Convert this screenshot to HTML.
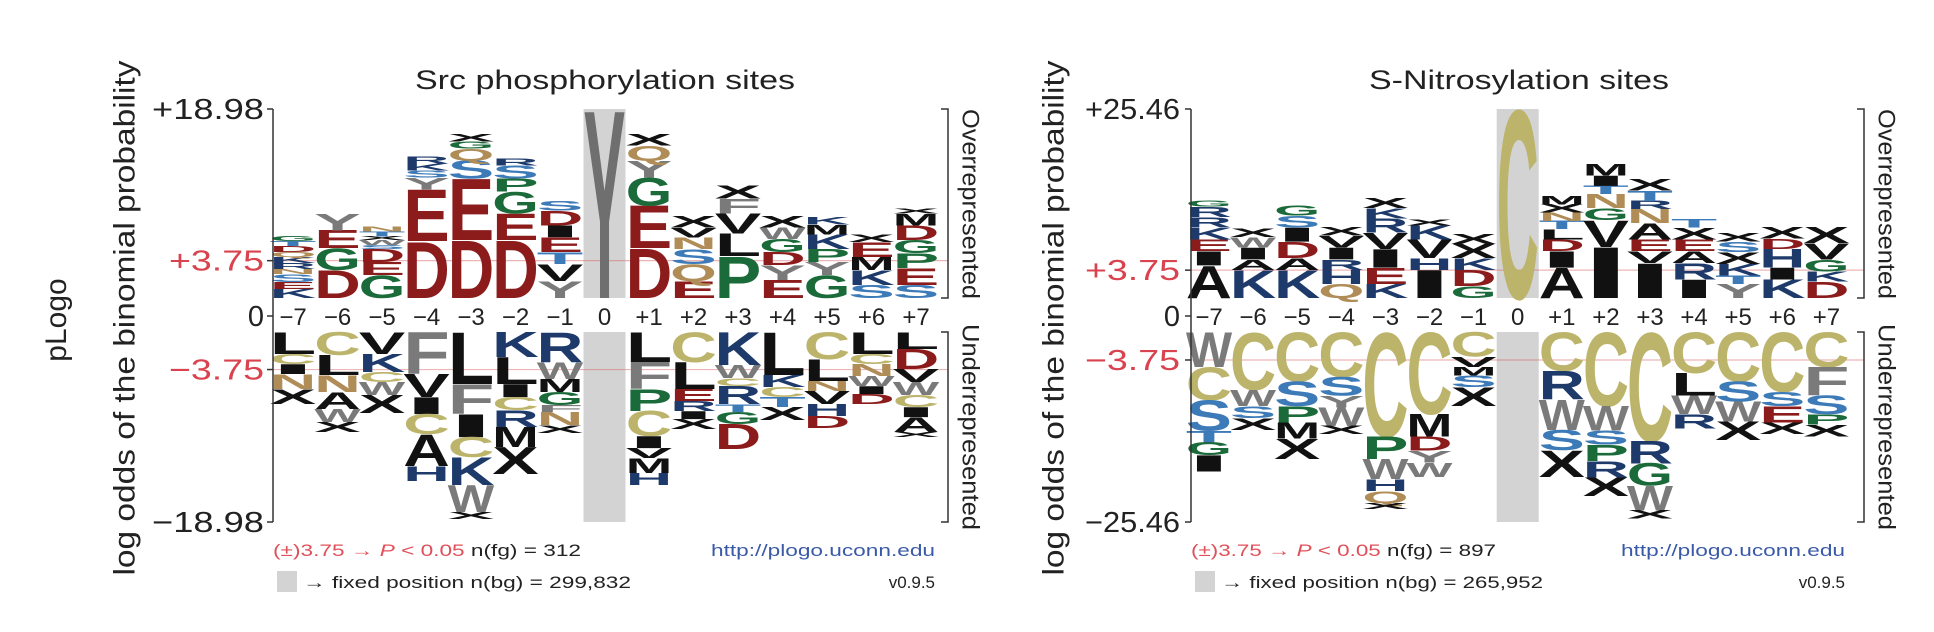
<!DOCTYPE html>
<html><head><meta charset="utf-8"><style>
html,body{margin:0;padding:0;background:#fff;}
svg{display:block;font-family:"Liberation Sans",sans-serif;}
</style></head><body>
<svg id="fig" width="1934" height="632" viewBox="0 0 1934 632" xmlns="http://www.w3.org/2000/svg">
<text transform="translate(66,320) rotate(-90)" font-size="30" text-anchor="middle" fill="#222">pLogo</text>
</svg>
<script>
// ---------- Data: Src phosphorylation sites ----------
const positions = ['\u22127','\u22126','\u22125','\u22124','\u22123','\u22122','\u22121','0','+1','+2','+3','+4','+5','+6','+7'];
const srcTicks = ['+18.98','+3.75','0','\u22123.75','\u221218.98'];
const srcMax = 18.98;
const srcFixed = 'Y';
const srcUpperLetters = ['KESNRKQDTG','DGEY','GEDSWXTN','DEYSKR','DESQGX','DEGPSR','YVTEIDS','','DEGYQX','EQSNVX','PLVFX','EYDGWX','GYPKMK','SKMEX','SEPGDMX'];
const srcUpperScores = [
 [0.9,0.7,0.8,0.5,0.6,0.6,0.5,0.6,0.5,0.5],[2.8,2.2,1.8,1.7],[2.3,1.3,1.3,0.4,0.5,0.4,0.5,0.5],
 [5.7,5.2,1.2,0.7,0.7,0.7],[5.8,6.2,1.8,1.2,0.7,0.8],[5.8,2.7,2.2,1.3,1.3,0.7],[1.7,1.7,1.2,1.5,1.2,1.5,1.0],
 [],[5.0,4.3,2.8,1.7,1.5,1.2],[1.7,1.7,1.5,1.2,1.0,1.2],[4.2,2.3,2.0,1.5,1.3],[1.8,1.5,1.3,1.3,1.2,1.2],
 [2.3,1.3,1.3,1.5,1.0,0.8],[1.3,1.5,1.3,1.5,0.8],[1.3,1.7,1.5,1.3,1.5,1.2,0.5]];
const srcLowerLetters = ['LCINX','CLNAWX','VKCWX','FVICAH','LFICKWX','KLICRMX','RWMGFNX','','LFPCIVMH','CLERIX','KWCRTGD','LKCTX','CLNVHD','LCNWID','LDVWCIAX'];
const srcLowerScores = [
 [2.2,1.0,1.0,1.5,1.5],[2.3,2.0,1.7,1.7,1.3,1.0],[2.2,1.8,1.0,1.3,1.8],[4.2,2.3,1.7,2.0,3.2,1.5],
 [5.2,3.0,2.3,2.0,2.8,2.7,0.7],[2.5,2.7,1.3,1.3,1.7,2.0,2.7],[3.0,1.7,1.3,1.3,0.7,1.3,0.8],[],
 [3.0,2.7,2.2,2.5,1.2,1.0,1.5,1.2],[3.0,2.7,1.2,1.0,0.8,1.0],[3.3,1.3,0.8,1.8,0.8,1.2,2.5],[4.3,1.2,1.0,1.0,1.3],
 [2.7,2.2,1.0,1.3,1.2,1.2],[2.2,1.0,1.2,1.0,0.8,1.0],[1.7,2.0,1.3,1.3,1.2,1.0,1.5,0.5]];

// ---------- Data: S-Nitrosylation sites ----------
const snoTicks = ['+25.46','+3.75','0','\u22123.75','\u221225.46'];
const snoMax = 25.46;
const snoFixed = 'C';
const snoUpperLetters = ['AIEKRRG','KAIWX','KADISG','QHRIVX','KEIVRKX','IHVKX','GDKXX','','AIDLTNXM','IVGNTIM','IVEANRTX','IRAEXT','YTKXSX','KIHDX','DKGVX'];
const snoUpperScores = [
 [4.4,1.9,1.6,1.6,1.4,1.4,0.8],[3.8,1.4,1.6,1.4,1.1],[3.8,1.6,2.2,1.9,1.6,1.4],[1.9,1.9,1.4,1.6,1.6,1.1],
 [1.9,2.2,2.5,2.2,1.9,1.4,1.4],[3.8,1.6,2.5,1.9,0.8],[1.6,2.2,1.6,1.9,1.4],[],
 [4.1,2.2,1.6,1.4,1.1,1.1,1.1,1.1],[6.9,3.6,1.6,1.9,1.1,1.4,1.6],[4.7,1.6,1.6,2.2,1.9,1.1,1.4,1.6],
 [2.5,2.2,1.6,1.6,1.6,1.1],[1.9,1.1,1.6,1.6,1.4,1.1],[2.5,1.6,2.5,1.4,1.6],[2.2,1.4,1.6,2.2,2.2]];
const snoLowerLetters = ['WCSTGI','CWSX','CSPMX','CSYWX','CPWHQX','CMDYW','CVMSX','','CRWSX','CWSPRX','CRGWX','CLWR','CSWX','CSEX','CFSPX'];
const snoLowerScores = [
 [4.7,4.4,4.1,1.6,1.7,2.2],[7.7,2.2,1.6,1.6],[6.6,3.3,2.2,2.2,2.7],[6.0,2.5,1.6,2.5,1.1],
 [14.0,3.0,2.7,1.6,1.6,0.8],[11.0,3.0,1.9,1.6,1.9],[3.3,1.4,1.1,1.6,2.5],[],
 [5.2,3.8,4.1,2.7,3.6],[9.9,3.3,1.9,2.2,2.2,2.5],[14.6,3.0,3.0,3.3,1.1],[5.5,3.0,2.5,1.9],
 [6.6,2.7,2.7,2.5],[8.0,1.9,2.2,1.6],[4.7,3.8,2.5,1.4,1.6]];

// ---------- Rendering ----------
const NS = 'http://www.w3.org/2000/svg';
const svg = document.getElementById('fig');
const COLORS = {D:'#8c1c1c',E:'#8c1c1c',K:'#1d3a6b',R:'#1d3a6b',H:'#1d3a6b',S:'#3d7ab8',T:'#3d7ab8',
  N:'#b08c57',Q:'#b08c57',G:'#1b6a3a',P:'#1b6a3a',C:'#bdb46c',F:'#7a7a7a',W:'#7a7a7a',Y:'#7a7a7a',
  A:'#111',V:'#111',L:'#111',I:'#111',M:'#111',X:'#111'};
const CAP = 0.70;
function mk(tag, attrs, parent){
  const el = document.createElementNS(NS, tag);
  for (const k in attrs) el.setAttribute(k, attrs[k]);
  (parent||svg).appendChild(el);
  return el;
}
function letter(g, ch, cx, yTop, h, w, color){
  if (h <= 0) return;
  const fs = h / CAP;
  const t = mk('text', {x: cx - w/2, y: yTop + h, 'font-size': fs.toFixed(2), 'font-weight':'bold',
    textLength: w, lengthAdjust:'spacingAndGlyphs', fill: color || COLORS[ch] || '#111'}, g);
  t.textContent = ch;
  
  
}

function panel(cfg){
  const g = mk('g', {});
  
  
  const top = 109, base = 298, lowTop = 332, bot = 522;
  const yUp = v => base - v * (base - top) / cfg.max;
  const yLo = v => lowTop + v * (bot - lowTop) / cfg.max;
  const xCol = i => cfg.x0 + i * cfg.dx;
  const colW = cfg.dx + 2;
  const fixIdx = positions.indexOf('0');

  const title = mk('text', {x: cfg.titleX, y: 89, 'font-size': 27, 'text-anchor':'middle', fill:'#222', textLength: cfg.titleLen, lengthAdjust:'spacingAndGlyphs'}, g);
  title.textContent = cfg.title;
  
  

  const yt = mk('text', {transform:`translate(${cfg.yTitleX},318) rotate(-90)`, 'font-size': 30, 'text-anchor':'middle', fill:'#222', textLength: 515, lengthAdjust:'spacingAndGlyphs', 'dominant-baseline':'central'}, g);
  yt.textContent = 'log odds of the binomial probability';
  
  

  const gb1 = mk('rect', {x: xCol(fixIdx) - 21, y: top, width: 42, height: base - top, fill:'#d3d3d3'}, g);
  
  
  const gb2 = mk('rect', {x: xCol(fixIdx) - 21, y: lowTop, width: 42, height: bot - lowTop, fill:'#d3d3d3'}, g);
  
  

  [yUp(3.75), yLo(3.75)].forEach((y, k) => {
    const l = mk('line', {x1: cfg.axisX, x2: cfg.brX, y1: y, y2: y, stroke:'rgba(215,90,90,0.45)', 'stroke-width':1.2}, g);
    
    
  });

  letter(g, cfg.fixed, xCol(fixIdx), top, base - top, 42, cfg.fixed === 'Y' ? '#6f6f6f' : COLORS[cfg.fixed]);

  positions.forEach((p, i) => {
    const cx = xCol(i);
    const lab = mk('text', {x: cx, y: 325, 'font-size': 24, 'text-anchor':'middle', fill:'#222'}, g);
    lab.textContent = p;
    
    
    if (i === fixIdx) return;
    let acc = 0;
    const ul = cfg.upL[i], us = cfg.upS[i];
    for (let k = 0; k < ul.length; k++){
      const v = us[k];
      letter(g, ul[k], cx, yUp(acc + v), yUp(acc) - yUp(acc + v), colW);
      acc += v;
    }
    acc = 0;
    const ll = cfg.loL[i], ls = cfg.loS[i];
    for (let k = 0; k < ll.length; k++){
      const v = ls[k];
      letter(g, ll[k], cx, yLo(acc), yLo(acc + v) - yLo(acc), colW);
      acc += v;
    }
  });

  const ax = mk('line', {x1: cfg.axisX, x2: cfg.axisX, y1: top, y2: bot, stroke:'#333', 'stroke-width':1.5}, g);
  
  
  const tickYs = [top, yUp(3.75), 316, yLo(3.75), bot];
  const tickLens = [cfg.bigLen, 95, 0, 95, cfg.bigLen];
  cfg.ticks.forEach((lbl, k) => {
    const tm = mk('line', {x1: cfg.axisX - 6, x2: cfg.axisX, y1: tickYs[k], y2: tickYs[k], stroke:'#333', 'stroke-width':1.5}, g);
    
    
    const attrs = {x: cfg.tickRight, y: tickYs[k] + 10, 'font-size': 29, 'text-anchor':'end', fill: (k === 1 || k === 3) ? '#d9434f' : '#222'};
    if (tickLens[k]) { attrs.textLength = tickLens[k]; attrs.lengthAdjust = 'spacingAndGlyphs'; }
    const tl = mk('text', attrs, g);
    tl.textContent = lbl;
    
    
  });

  [[top, base, 'Overrepresented', 204, 190], [lowTop, bot, 'Underrepresented', 427, 206]].forEach(([a, b, txt, cy, len]) => {
    const br = mk('path', {d:`M${cfg.brX-7},${a} H${cfg.brX} V${b} H${cfg.brX-7}`, fill:'none', stroke:'#333', 'stroke-width':1.5}, g);
    
    
    const bt = mk('text', {transform:`translate(${cfg.brX + 22},${cy}) rotate(90)`, 'font-size': 24, 'text-anchor':'middle', 'dominant-baseline':'central', fill:'#222', textLength: len, lengthAdjust:'spacingAndGlyphs'}, g);
    bt.textContent = txt;
    
    
  });

  const f1 = mk('text', {x: cfg.axisX, y: 556, 'font-size': 17, fill:'#222', textLength: cfg.f1Len, lengthAdjust:'spacingAndGlyphs'}, g);
  f1.innerHTML = '<tspan fill="#e0505a">(\u00b1)3.75 \u2192 <tspan font-style="italic">P</tspan> &lt; 0.05</tspan> n(fg) = ' + cfg.nfg;
  
  
  const sq = mk('rect', {x: cfg.axisX + 4, y: 571, width: 20, height: 21, fill:'#d3d3d3'}, g);
  
  
  const f2 = mk('text', {x: cfg.axisX + 30, y: 588, 'font-size': 17, fill:'#222', textLength: cfg.f2Len, lengthAdjust:'spacingAndGlyphs'}, g);
  f2.textContent = '\u2192 fixed position n(bg) = ' + cfg.nbg;
  
  
  const url = mk('text', {x: cfg.footRight, y: 556, 'font-size': 17, 'text-anchor':'end', fill:'#3a5aa8', textLength: 224, lengthAdjust:'spacingAndGlyphs'}, g);
  url.textContent = 'http://plogo.uconn.edu';
  
  
  const ver = mk('text', {x: cfg.footRight, y: 588, 'font-size': 17, 'text-anchor':'end', fill:'#222'}, g);
  ver.textContent = 'v0.9.5';
  
  
}

panel({name:'src-phosphorylation-logo', title:'Src phosphorylation sites', titleX:605, titleLen:380,
  yTitleX:125, axisX:273, tickRight:264, bigLen:112, x0:293, dx:44.5, brX:948, max:srcMax, ticks:srcTicks,
  fixed:srcFixed, upL:srcUpperLetters, upS:srcUpperScores, loL:srcLowerLetters, loS:srcLowerScores,
  nfg:'312', nbg:'299,832', f1Len:308, f2Len:328, footRight:935});
panel({name:'s-nitrosylation-logo', title:'S-Nitrosylation sites', titleX:1519, titleLen:300,
  yTitleX:1054, axisX:1191, tickRight:1180, bigLen:95, x0:1209, dx:44.1, brX:1864, max:snoMax, ticks:snoTicks,
  fixed:snoFixed, upL:snoUpperLetters, upS:snoUpperScores, loL:snoLowerLetters, loS:snoLowerScores,
  nfg:'897', nbg:'265,952', f1Len:305, f2Len:322, footRight:1845});
</script>
</body></html>
